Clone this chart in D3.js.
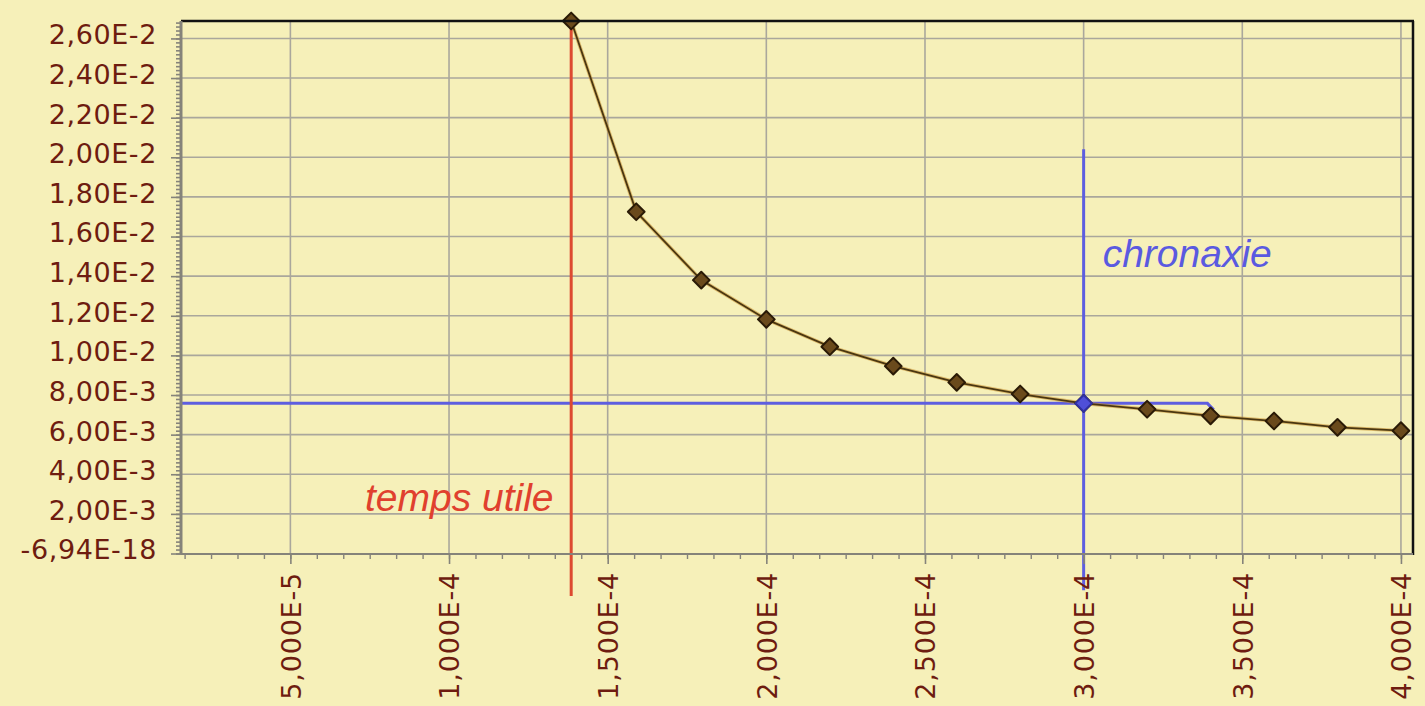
<!DOCTYPE html>
<html>
<head>
<meta charset="utf-8">
<script src="https://cdn.jsdelivr.net/npm/d3@7"></script>
<style>
  html, body { margin: 0; padding: 0; background: #f6f0b9; }
  svg { display: block; }
</style>
</head>
<body>
<svg id="chart" width="1425" height="706"></svg>
<script>
// ---- data ----
const durations = [1.385e-4, 1.59e-4, 1.795e-4, 2.0e-4, 2.2e-4, 2.4e-4, 2.6e-4, 2.8e-4, 3.0e-4, 3.2e-4, 3.4e-4, 3.6e-4, 3.8e-4, 4.0e-4];
const intensities = [0.02688, 0.01725, 0.01380, 0.01182, 0.01044, 0.00946, 0.00864, 0.00805, 0.00758, 0.00728, 0.00695, 0.00669, 0.00637, 0.00620];

const yTickValues = [0, 0.002, 0.004, 0.006, 0.008, 0.010, 0.012, 0.014, 0.016, 0.018, 0.020, 0.022, 0.024, 0.026];
const yTickLabels = ["-6,94E-18", "2,00E-3", "4,00E-3", "6,00E-3", "8,00E-3", "1,00E-2", "1,20E-2", "1,40E-2", "1,60E-2", "1,80E-2", "2,00E-2", "2,20E-2", "2,40E-2", "2,60E-2"];
const xTickValues = [5e-5, 1e-4, 1.5e-4, 2e-4, 2.5e-4, 3e-4, 3.5e-4, 4e-4];
const xTickLabels = ["5,000E-5", "1,000E-4", "1,500E-4", "2,000E-4", "2,500E-4", "3,000E-4", "3,500E-4", "4,000E-4"];

const xDomain = [1.553e-5, 4.038e-4];
const yDomain = [0, 0.02688];

// annotation lines (data units)
const chronaxieX = [3.0e-4, 3.0e-4];
const chronaxieY = [0.02040, -0.00185];
const doubleRheoX = [1.553e-5, 3.39e-4, 3.41e-4];
const doubleRheoY = [0.00758, 0.00758, 0.00725];
const usefulTimeX = [1.385e-4, 1.385e-4];
const usefulTimeY = [0.02688, -0.00215];
const chronaxiePoint = [3.0e-4, 0.00758];
const labels = [
  { text: "temps utile", x: 7.35e-5, y: 0.00215, color: "#e0402e" },
  { text: "chronaxie", x: 3.06e-4, y: 0.01445, color: "#5a5ae0" }
];

// ---- layout ----
const L = 181, R = 1413, T = 21, B = 554;
const svg = d3.select("#chart");
const x = d3.scaleLinear().domain(xDomain).range([L, R]);
const y = d3.scaleLinear().domain(yDomain).range([B - 0.5, T]);

svg.append("rect").attr("width", 1425).attr("height", 706).attr("fill", "#f6f0b9");

const gridColor = "#aaa79c";
// horizontal grid
svg.append("g").selectAll("line").data(yTickValues.filter(v => v > 0)).join("line")
  .attr("x1", L).attr("x2", R)
  .attr("y1", d => y(d)).attr("y2", d => y(d))
  .attr("stroke", gridColor).attr("stroke-width", 1.6);
// vertical grid
svg.append("g").selectAll("line").data(xTickValues).join("line")
  .attr("x1", d => x(d)).attr("x2", d => x(d))
  .attr("y1", T).attr("y2", B)
  .attr("stroke", gridColor).attr("stroke-width", 1.6);

const lineGen = d3.line().x(d => x(d[0])).y(d => y(d[1]));

// blue horizontal (2x rheobase)
svg.append("path").datum(d3.zip(doubleRheoX, doubleRheoY))
  .attr("d", lineGen).attr("fill", "none")
  .attr("stroke", "#5e5ee0").attr("stroke-width", 3);

// curve
const pts = d3.zip(durations, intensities);
svg.append("path").datum(pts)
  .attr("d", lineGen).attr("fill", "none")
  .attr("stroke", "#c8902e").attr("stroke-width", 3.6).attr("opacity", 0.55);
svg.append("path").datum(pts)
  .attr("d", lineGen).attr("fill", "none")
  .attr("stroke", "#4a3610").attr("stroke-width", 1.8);

// red vertical
svg.append("path").datum(d3.zip(usefulTimeX, usefulTimeY))
  .attr("d", lineGen).attr("fill", "none")
  .attr("stroke", "#dd4a30").attr("stroke-width", 3);

// blue vertical
svg.append("path").datum(d3.zip(chronaxieX, chronaxieY))
  .attr("d", lineGen).attr("fill", "none")
  .attr("stroke", "#5e5ee0").attr("stroke-width", 3);

// markers
const sym = d3.symbol(d3.symbolSquare, 140);
svg.append("g").selectAll("path").data(pts).join("path")
  .attr("d", sym)
  .attr("transform", d => `translate(${x(d[0])},${y(d[1])}) rotate(45)`)
  .attr("fill", "#6a4a1c").attr("stroke", "#2a1a06").attr("stroke-width", 2)
  .attr("stroke-linejoin", "round");
svg.append("path").attr("d", sym)
  .attr("transform", `translate(${x(chronaxiePoint[0])},${y(chronaxiePoint[1])}) rotate(45)`)
  .attr("fill", "#4f4fd8").attr("stroke", "#3030a0").attr("stroke-width", 2)
  .attr("stroke-linejoin", "round");

// borders (top/right)
svg.append("line").attr("x1", L).attr("x2", R + 1).attr("y1", T).attr("y2", T)
  .attr("stroke", "#111").attr("stroke-width", 2.5);
svg.append("line").attr("x1", R).attr("x2", R).attr("y1", T).attr("y2", B + 1)
  .attr("stroke", "#111").attr("stroke-width", 2.5);

const axisColor = "#85837a";
const labelColor = "#6e1c10";

// y axis: minor ticks
const yMinor = d3.range(0, 0.02688, 0.0002);
svg.append("g").attr("transform", `translate(${L},0)`)
  .call(d3.axisLeft(y).tickValues(yMinor).tickSize(5).tickFormat(""))
  .call(g => g.select(".domain").remove())
  .call(g => g.selectAll("line").attr("stroke", axisColor).attr("stroke-width", 1.6));
// y axis major
const yAxis = svg.append("g").attr("transform", `translate(${L},0)`)
  .call(d3.axisLeft(y).tickValues(yTickValues).tickSize(10).tickPadding(14)
    .tickFormat((d, i) => yTickLabels[i]));
yAxis.select(".domain").attr("stroke", axisColor).attr("stroke-width", 3)
  .attr("d", `M0,${T}V${B}`);
yAxis.selectAll(".tick line").attr("stroke", axisColor).attr("stroke-width", 1.6);
yAxis.selectAll(".tick text")
  .attr("fill", labelColor)
  .attr("font-family", "DejaVu Sans, sans-serif")
  .attr("font-size", 27)
  .attr("letter-spacing", "0.6px")
  .attr("dy", "0.2em");

// x axis minor
const xMinor = d3.range(0, 4.04e-4, 5e-5 / 6).filter(v => v >= xDomain[0]);
svg.append("g").attr("transform", `translate(0,${B})`)
  .call(d3.axisBottom(x).tickValues(xMinor).tickSize(5).tickFormat(""))
  .call(g => g.select(".domain").remove())
  .call(g => g.selectAll("line").attr("stroke", axisColor).attr("stroke-width", 1.4));
// x axis major
const xAxis = svg.append("g").attr("transform", `translate(0,${B})`)
  .call(d3.axisBottom(x).tickValues(xTickValues).tickSize(10)
    .tickFormat((d, i) => xTickLabels[i]));
xAxis.select(".domain").attr("stroke", axisColor).attr("stroke-width", 2)
  .attr("d", `M${L},0H${R}`);
xAxis.selectAll(".tick line").attr("stroke", axisColor).attr("stroke-width", 1.6);
xAxis.selectAll(".tick text")
  .attr("fill", labelColor)
  .attr("font-family", "DejaVu Sans, sans-serif")
  .attr("font-size", 27)
  .attr("letter-spacing", "0.8px")
  .attr("text-anchor", "end")
  .attr("transform", "rotate(-90)")
  .attr("x", -18).attr("y", 0).attr("dy", "0.36em");

// annotation labels
svg.append("g").selectAll("text").data(labels).join("text")
  .attr("x", d => x(d.x)).attr("y", d => y(d.y))
  .attr("fill", d => d.color)
  .attr("font-family", "Liberation Sans, Arial, sans-serif")
  .attr("font-style", "italic")
  .attr("font-size", 39)
  .text(d => d.text);
</script>
</body>
</html>
